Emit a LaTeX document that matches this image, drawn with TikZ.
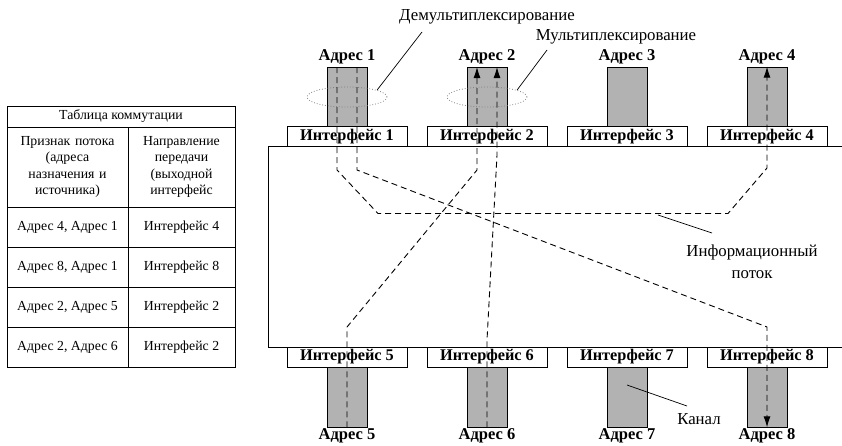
\documentclass[tikz,border=0pt]{standalone}
\usepackage{fontspec}
\setmainfont{Liberation Serif}
\usetikzlibrary{arrows.meta,shapes.geometric}

\tikzset{
  every picture/.style={line width=0.7pt},
  cell/.style={draw, inner sep=0pt, align=center, font=\fontsize{13.8}{16.3}\selectfont},
  iface/.style={draw, fill=white, minimum width=120pt, minimum height=20pt, inner sep=0pt, font=\fontsize{16.3}{16.3}\selectfont\bfseries},
  chan/.style={draw, fill=gray!60, minimum width=40pt, minimum height=60pt, inner sep=0pt},
  addr/.style={inner sep=1pt, font=\fontsize{16.5}{16.5}\selectfont\bfseries},
  ring/.style={ellipse, draw=gray, dotted, thick, minimum width=80pt, minimum height=20pt},
  flow/.style={line width=0.9pt, dash pattern=on 6pt off 4pt},
  tip/.style={-{Latex[length=11pt,width=7pt]}},
  note/.style={inner sep=1pt, align=center, font=\fontsize{16.8}{22}\selectfont}
}

\begin{document}
\begin{tikzpicture}[x=1pt,y=-1pt]
\useasboundingbox (0,0) rectangle (842,445);

% switching table
\node[cell, minimum width=228pt, minimum height=21pt] (ttl) at (121,116.5) {Таблица коммутации};
\node[cell, minimum width=121pt, minimum height=80pt, text width=112pt] (hd1) at (67.5,167) {Признак потока\\(адреса\\назначения и\\источника)};
\node[cell, minimum width=107pt, minimum height=80pt, text width=100pt] (hd2) at (181.5,167) {Направление\\передачи\\(выходной\\интерфейс};
\node[cell, minimum width=121pt, minimum height=40pt] (r1a) at (67.5,227) {Адрес 4, Адрес 1};
\node[cell, minimum width=107pt, minimum height=40pt] (r1b) at (181.5,227) {Интерфейс 4};
\node[cell, minimum width=121pt, minimum height=40pt] (r2a) at (67.5,267) {Адрес 8, Адрес 1};
\node[cell, minimum width=107pt, minimum height=40pt] (r2b) at (181.5,267) {Интерфейс 8};
\node[cell, minimum width=121pt, minimum height=40pt] (r3a) at (67.5,307) {Адрес 2, Адрес 5};
\node[cell, minimum width=107pt, minimum height=40pt] (r3b) at (181.5,307) {Интерфейс 2};
\node[cell, minimum width=121pt, minimum height=40pt] (r4a) at (67.5,347) {Адрес 2, Адрес 6};
\node[cell, minimum width=107pt, minimum height=40pt] (r4b) at (181.5,347) {Интерфейс 2};

% switch body
\draw (842,146) -- (268,146) -- (268,347) -- (842,347);

% channels
\node[chan] (ch1) at (347,97) {};
\node[chan] (ch2) at (487,97) {};
\node[chan] (ch3) at (627,97) {};
\node[chan] (ch4) at (767,97) {};
\node[chan] (ch5) at (347,397) {};
\node[chan] (ch6) at (487,397) {};
\node[chan] (ch7) at (627,397) {};
\node[chan] (ch8) at (767,397) {};

% interfaces
\node[iface] (if1) at (347,136.5) {Интерфейс 1};
\node[iface] (if2) at (487,136.5) {Интерфейс 2};
\node[iface] (if3) at (627,136.5) {Интерфейс 3};
\node[iface] (if4) at (767,136.5) {Интерфейс 4};
\node[iface] (if5) at (347,357) {Интерфейс 5};
\node[iface] (if6) at (487,357) {Интерфейс 6};
\node[iface] (if7) at (627,357) {Интерфейс 7};
\node[iface] (if8) at (767,357) {Интерфейс 8};

% addresses
\node[addr] (ad1) at (347,57) {Адрес 1};
\node[addr] (ad2) at (487,57) {Адрес 2};
\node[addr] (ad3) at (627,57) {Адрес 3};
\node[addr] (ad4) at (767,57) {Адрес 4};
\node[addr] (ad5) at (347,436) {Адрес 5};
\node[addr] (ad6) at (487,436) {Адрес 6};
\node[addr] (ad7) at (627,436) {Адрес 7};
\node[addr] (ad8) at (767,436) {Адрес 8};

\node[ring] (rg1) at (347,97) {};
\node[ring] (rg2) at (487,97) {};

% flows
\coordinate (s1a) at (337,67);
\coordinate (s1b) at (357,67);
\coordinate (t2a) at (477,67);
\coordinate (t2b) at (497,67);
\draw[flow,tip] (s1a) -- (337,170) -- (378,213.5) -- (728,213.5) -- (767,168) -- (ch4.north);
\draw[flow,tip] (s1b) -- (357,170) -- (767,327) -- (ch8.south);
\draw[flow,tip] (ch5.south) -- (347,327) -- (477,170) -- (t2a);
\draw[flow,tip] (ch6.south) -- (487,340) -- (497,155) -- (t2b);

% labels
\node[note] (dmx) at (487,17) {Демультиплексирование};
\node[note] (mux) at (616,37) {Мультиплексирование};
\node[note] (inf) at (752,262) {Информационный\\поток};
\node[note] (knl) at (699,419) {Канал};
\coordinate (dmxl) at (422,32);
\coordinate (muxl) at (547,50);
\coordinate (infl) at (658,215);
\coordinate (knll) at (627,385);
\draw (dmxl) -- (rg1.13);
\draw (muxl) -- (rg2.13);
\draw (infl) -- (712,233);
\draw (knll) -- (687,406);
\end{tikzpicture}
\end{document}
